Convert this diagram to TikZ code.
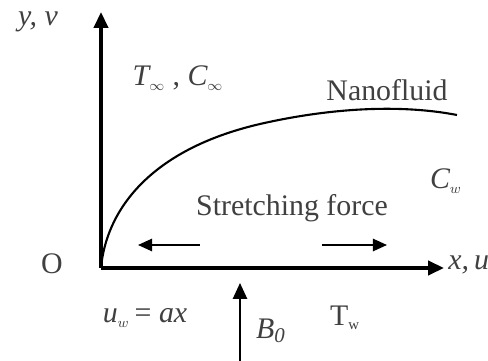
\documentclass[tikz,border=0pt]{standalone}
\usepackage{fontspec}
\setmainfont{Liberation Serif}
\usetikzlibrary{arrows.meta}
\begin{document}
\begin{tikzpicture}[x=0.02cm,y=-0.02cm,
  axis/.style={line width=1.9pt,-{Triangle[length=9pt,width=8pt]}},
  force/.style={line width=1.1pt,-{Triangle[length=8pt,width=7pt]}},
  lbl/.style={inner sep=0pt,font=\fontsize{17}{20}\selectfont},
  glbl/.style={lbl,text=black!75}]
\useasboundingbox (0,0) rectangle (488,361);
\coordinate (O) at (101,268);
\coordinate (ytop) at (101,12);
\coordinate (xend) at (444,268);
\coordinate (bstart) at (240,372);
\coordinate (bend) at (240,283);
\coordinate (lf1) at (200,245);
\coordinate (lf2) at (138,245);
\coordinate (rf1) at (322,245);
\coordinate (rf2) at (387,245);
\draw[axis] (O) -- (ytop);
\draw[axis] (O) -- (xend);
\draw[line width=1.2pt] (O) .. controls (106,212) and (148,150) .. (260,124)
  .. controls (330,108) and (400,104) .. (457,115);
\draw[force] (lf1) -- (lf2);
\draw[force] (rf1) -- (rf2);
\draw[line width=1.2pt,-{Triangle[length=9pt,width=8pt]}] (bstart) -- (bend);
\node[glbl] (o) at (52,264) {O};
\node[glbl] (yv) at (38,22) {\itshape y, v};
\node[glbl] (tinf) at (178,78) {{\itshape T}$_{\scriptscriptstyle\infty}$ , {\itshape C}$_{\scriptscriptstyle\infty}$};
\node[glbl] (nano) at (387,90) {Nanofluid};
\node[glbl] (cw) at (446,181) {{\itshape C}$_{\scriptscriptstyle w}$};
\node[glbl] (sf) at (292,208) {Stretching force};
\node[glbl,anchor=west] (xu) at (448,265) {\itshape x,\,u};
\node[glbl] (uw) at (145,318) {{\itshape u}$_{\scriptscriptstyle w}$\,= {\itshape ax}};
\node[glbl] (b0) at (271,331) {{\itshape B}$_{\scriptstyle\mathit{0}}$};
\node[glbl] (tw) at (345,318) {T$_{\scriptscriptstyle\mathrm{w}}$};
\end{tikzpicture}
\end{document}
